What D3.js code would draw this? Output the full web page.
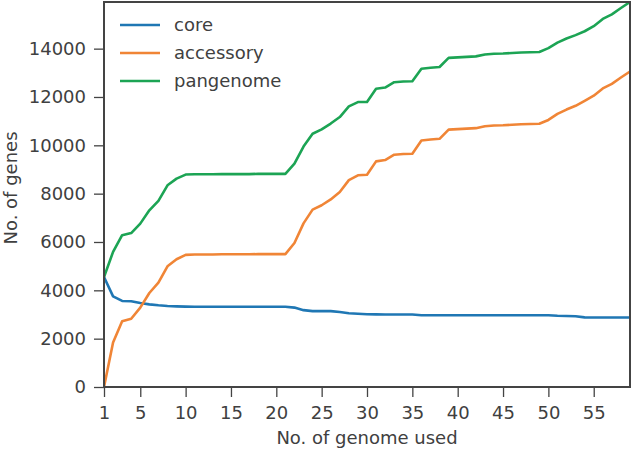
<!DOCTYPE html>
<html><head><meta charset="utf-8">
<script src="https://cdn.jsdelivr.net/npm/d3@7"></script>
<style>body{margin:0;background:#fff}svg{display:block}text{font-family:"DejaVu Sans",sans-serif;fill:#404040}</style>
</head><body><svg id="c" width="633" height="449"></svg>
<script>
const genomes = d3.range(1, 60);
const core = [4550,3750,3560,3545,3475,3420,3380,3350,3335,3325,
  3320,3320,3320,3320,3320,3320,3320,3320,3320,3320,3320,
  3285,3180,3140,3140,3140,3100,3050,3030,3010,3005,3000,3000,3000,3000,
  2970,2970,2970,2970,2970,2970,2970,2970,2970,2970,2970,2970,2970,2970,2970,
  2950,2940,2925,2880,2875,2875,2875,2875,2875];
const accessory = [0,1840,2720,2825,3285,3890,4320,4995,5285,5465,
  5480,5480,5480,5490,5490,5490,5490,5500,5500,5500,5500,
  5958,6770,7340,7520,7760,8070,8560,8760,8780,9335,9390,9610,9640,9650,
  10200,10240,10270,10650,10670,10690,10710,10790,10820,10830,10850,10870,10880,10890,11050,
  11300,11480,11635,11840,12055,12355,12545,12805,13055];
const pangenome = [4550,5590,6280,6370,6760,7310,7700,8345,8620,8790,
  8800,8800,8800,8810,8810,8810,8810,8820,8820,8820,8820,
  9243,9950,10480,10660,10900,11170,11610,11790,11790,12340,12390,12610,12640,12650,
  13170,13210,13240,13620,13640,13660,13680,13760,13790,13800,13820,13840,13850,13860,14020,
  14250,14420,14560,14720,14930,15230,15420,15680,15930];
const xTicks = [1,5,10,15,20,25,30,35,40,45,50,55];
const yTicks = [0,2000,4000,6000,8000,10000,12000,14000];
const seriesNames = ["core","accessory","pangenome"];
const seriesColors = ["#1f77b4","#f08536","#1ca454"];

const svg = d3.select("#c");
const L=104, R=630, T=2, B=387;
const x = d3.scaleLinear().domain([1,59]).range([L,R]);
const y = d3.scaleLinear().domain([0,15930]).range([B,T]);

const axisColor="#444";
const gx = svg.append("g").attr("transform",`translate(0,${B})`)
  .call(d3.axisBottom(x).tickValues(xTicks).tickSize(10).tickPadding(9).tickFormat(d3.format("d")));
const gy = svg.append("g").attr("transform",`translate(${L},0)`)
  .call(d3.axisLeft(y).tickValues(yTicks).tickSize(10).tickPadding(8).tickFormat(d3.format("d")));
[gx,gy].forEach(g=>{
  g.select(".domain").remove();
  g.selectAll(".tick line").attr("stroke",axisColor).attr("stroke-width",1.3);
  g.selectAll(".tick text").style("font-size","18px").style("font-family","DejaVu Sans").attr("fill","#404040");
});

const data = [core,accessory,pangenome];
const line = d3.line().x((d,i)=>x(genomes[i])).y(d=>y(d));
svg.append("defs").append("clipPath").attr("id","cp").append("rect")
  .attr("x",L).attr("y",T).attr("width",R-L).attr("height",B-T);
const lg = svg.append("g").attr("clip-path","url(#cp)");
data.forEach((s,k)=>{
  lg.append("path").datum(s).attr("d",line).attr("fill","none")
    .attr("stroke",seriesColors[k]).attr("stroke-width",2.6).attr("stroke-linejoin","round");
});

svg.append("rect").attr("x",L).attr("y",T).attr("width",R-L).attr("height",B-T)
  .attr("fill","none").attr("stroke",axisColor).attr("stroke-width",2);

seriesNames.forEach((n,k)=>{
  const yy = 25 + k*28;
  svg.append("line").attr("x1",120).attr("x2",160).attr("y1",yy).attr("y2",yy)
    .attr("stroke",seriesColors[k]).attr("stroke-width",2.6);
  svg.append("text").attr("x",174).attr("y",yy+6).style("font-size","18px").text(n);
});

svg.append("text").attr("x",(L+R)/2).attr("y",444).attr("text-anchor","middle")
  .style("font-size","18px").text("No. of genome used");
svg.append("text").attr("transform",`translate(17,188) rotate(-90)`).attr("text-anchor","middle")
  .style("font-size","18px").text("No. of genes");
</script></body></html>
